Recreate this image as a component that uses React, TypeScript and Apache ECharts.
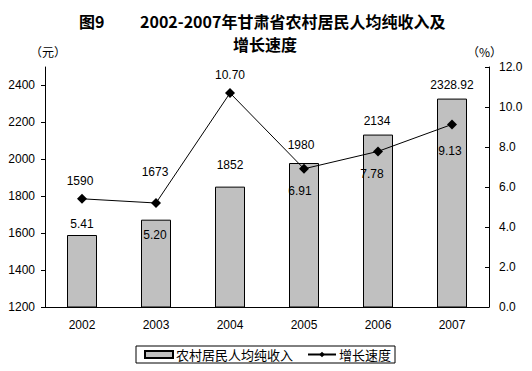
import React, { useEffect, useRef } from "react";
import * as echarts from "echarts";

const years = ["2002", "2003", "2004", "2005", "2006", "2007"];
const incomeValues = [1590, 1673, 1852, 1980, 2134, 2328.92];
const growthValues = [5.41, 5.2, 10.7, 6.91, 7.78, 9.13];
const leftTicks = [1200, 1400, 1600, 1800, 2000, 2200, 2400];
const rightTicks = [0, 2, 4, 6, 8, 10, 12];

// label placement tweaks (pixels)
const incomeLabelDy = [-54, -48, -22, -18, -14, -14];
const incomeLabelDx = [-2, -1, 0, -3, -1, 0];
const growthLabelDy = [25, 32, -18, 22, 23, 27];
const growthLabelDx = [0, -1, 0, -4, -6, -2];

const FONT = "'Liberation Sans', 'Noto Sans CJK SC', sans-serif";
const CJK = "'Noto Sans CJK SC', sans-serif";

export default function App() {
  const ref = useRef<HTMLDivElement>(null);
  useEffect(() => {
    if (!ref.current) return;
    const chart = echarts.init(ref.current, null, { renderer: "svg" });
    chart.setOption({
      animation: false,
      backgroundColor: "#fff",
      textStyle: { fontFamily: FONT, color: "#000" },
      graphic: [
        {
          type: "text",
          left: 79,
          top: 13,
          style: { text: "图9", font: `bold 16px ${CJK}`, fill: "#000" },
        },
        {
          type: "text",
          left: 140,
          top: 13,
          style: {
            text: "2002-2007年甘肃省农村居民人均纯收入及",
            font: `bold 16px ${CJK}`,
            fill: "#000",
          },
        },
        {
          type: "text",
          left: 233,
          top: 36,
          style: { text: "增长速度", font: `bold 16px ${CJK}`, fill: "#000" },
        },
        {
          type: "text",
          left: 30,
          top: 45,
          style: { text: "（元）", font: `12px ${CJK}`, fill: "#000" },
        },
        {
          type: "text",
          left: 467,
          top: 45,
          style: { text: "（%）", font: `12px ${CJK}`, fill: "#000" },
        },
      ],
      legend: {
        left: 136,
        top: 346,
        padding: [2, 4, 2, 8],
        itemGap: 14,
        itemWidth: 28,
        itemHeight: 7,
        borderColor: "#000",
        borderWidth: 1,
        borderRadius: 0,
        textStyle: { fontSize: 13, fontFamily: CJK, color: "#000", padding: [0, 0, 0, -2] },
        data: [
          { name: "农村居民人均纯收入", icon: "rect" },
          { name: "增长速度" },
        ],
      },
      grid: { left: 45, right: 43, top: 67, bottom: 64, containLabel: false },
      xAxis: {
        type: "category",
        data: years,
        axisLine: { lineStyle: { color: "#000", width: 1 } },
        axisTick: { inside: true, length: 4, lineStyle: { color: "#000" } },
        axisLabel: { color: "#000", fontSize: 12, margin: 12, fontFamily: FONT },
      },
      yAxis: [
        {
          type: "value",
          min: 1200,
          max: 2500,
          interval: 100,
          position: "left",
          axisLine: { show: true, lineStyle: { color: "#000" } },
          axisTick: { show: true, length: 4, lineStyle: { color: "#000" }, customValues: leftTicks },
          axisLabel: {
            color: "#000",
            fontSize: 12,
            margin: 10,
            fontFamily: FONT,
            customValues: leftTicks,
            formatter: (v: number) => String(v),
          },
          splitLine: { show: false },
        },
        {
          type: "value",
          min: 0,
          max: 12,
          interval: 2,
          position: "right",
          axisLine: { show: true, lineStyle: { color: "#000" } },
          axisTick: { show: true, inside: true, length: 4, lineStyle: { color: "#000" }, customValues: rightTicks },
          axisLabel: {
            color: "#000",
            fontSize: 12,
            margin: 10,
            fontFamily: FONT,
            customValues: rightTicks,
            formatter: (v: number) => v.toFixed(1),
          },
          splitLine: { show: false },
        },
      ],
      series: [
        {
          name: "农村居民人均纯收入",
          type: "bar",
          yAxisIndex: 0,
          barWidth: 30,
          itemStyle: { color: "#c0c0c0", borderColor: "#000", borderWidth: 1 },
          data: incomeValues.map((v, i) => ({
            value: v,
            label: {
              show: true,
              position: ["50%", incomeLabelDy[i]],
              align: "center",
              verticalAlign: "middle",
              offset: [incomeLabelDx[i], 0],
              color: "#000",
              fontSize: 12,
              fontFamily: FONT,
            },
          })),
        },
        {
          name: "增长速度",
          type: "line",
          yAxisIndex: 1,
          z: 5,
          symbol: "diamond",
          symbolSize: 10,
          lineStyle: { color: "#000", width: 1 },
          itemStyle: { color: "#000" },
          data: growthValues.map((v, i) => ({
            value: v,
            label: {
              show: true,
              position: "inside",
              offset: [growthLabelDx[i], growthLabelDy[i]],
              color: "#000",
              fontSize: 12,
              fontFamily: FONT,
              formatter: () => v.toFixed(2),
            },
          })),
        },
      ],
    });
    return () => chart.dispose();
  }, []);
  return <div ref={ref} style={{ width: 532, height: 371, position: "absolute", left: 0, top: 0 }} />;
}
